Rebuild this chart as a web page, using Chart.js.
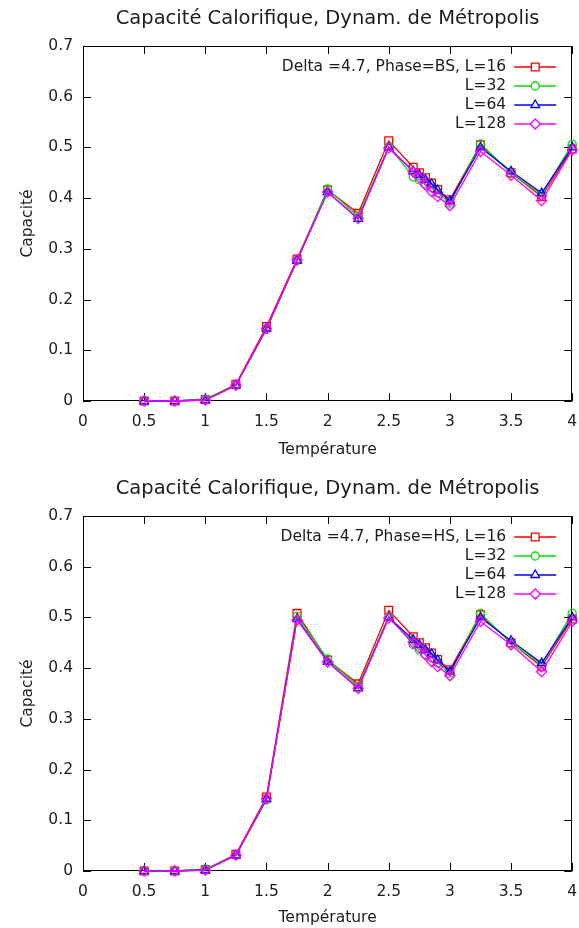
<!DOCTYPE html>
<html lang="fr">
<head>
<meta charset="UTF-8">
<title>Capacité Calorifique, Dynam. de Métropolis</title>
<script src="https://cdn.jsdelivr.net/npm/chart.js"></script>
<style>
    html, body { margin: 0; padding: 0; background: #fff; }
    .box { position: relative; width: 579px; }
    #boxBS { height: 470px; }
    #boxHS { height: 458px; }
</style>
</head>
<body>
<div class="box" id="boxBS"><canvas id="chartBS"></canvas></div>
<div class="box" id="boxHS"><canvas id="chartHS"></canvas></div>
<script>
const temperatures = [0.5, 0.75, 1, 1.25, 1.5, 1.75, 2, 2.25, 2.5, 2.7, 2.75, 2.8, 2.85, 2.9, 3, 3.25, 3.5, 3.75, 4];
const xTicks = [0, 0.5, 1, 1.5, 2, 2.5, 3, 3.5, 4];
const yTicks = [0, 0.1, 0.2, 0.3, 0.4, 0.5, 0.6, 0.7];
const sizes = ['L=16', 'L=32', 'L=64', 'L=128'];
const chartTitle = 'Capacité Calorifique, Dynam. de Métropolis';

// Phase=BS
const bsL16  = [0, 0, 0.003, 0.033, 0.147, 0.280, 0.416, 0.370, 0.513, 0.461, 0.450, 0.440, 0.430, 0.417, 0.397, 0.505, 0.450, 0.403, 0.497];
const bsL32  = [0, 0, 0.004, 0.031, 0.141, 0.277, 0.418, 0.364, 0.502, 0.442, 0.436, 0.428, 0.420, 0.410, 0.390, 0.507, 0.449, 0.408, 0.506];
const bsL64  = [0, 0, 0.002, 0.031, 0.143, 0.277, 0.412, 0.359, 0.500, 0.453, 0.446, 0.436, 0.428, 0.416, 0.394, 0.500, 0.453, 0.410, 0.500];
const bsL128 = [0, 0, 0.002, 0.031, 0.143, 0.278, 0.412, 0.360, 0.499, 0.452, 0.440, 0.426, 0.413, 0.403, 0.385, 0.492, 0.445, 0.395, 0.495];

// Phase=HS
const hsL16  = [0, 0, 0.003, 0.033, 0.146, 0.508, 0.416, 0.369, 0.514, 0.462, 0.450, 0.440, 0.430, 0.417, 0.397, 0.505, 0.450, 0.403, 0.497];
const hsL32  = [0, 0, 0.004, 0.031, 0.140, 0.502, 0.418, 0.364, 0.502, 0.446, 0.436, 0.428, 0.420, 0.410, 0.390, 0.508, 0.449, 0.408, 0.508];
const hsL64  = [0, 0, 0.002, 0.031, 0.142, 0.497, 0.413, 0.360, 0.500, 0.456, 0.446, 0.436, 0.428, 0.416, 0.393, 0.500, 0.454, 0.410, 0.500];
const hsL128 = [0, 0, 0.002, 0.031, 0.143, 0.495, 0.412, 0.360, 0.499, 0.450, 0.440, 0.426, 0.413, 0.403, 0.385, 0.492, 0.446, 0.393, 0.492];

const colors = ['rgb(255,0,0)', 'rgb(0,220,0)', 'rgb(0,0,255)', 'rgb(255,0,255)'];
const markers = ['rect', 'circle', 'triangle', 'rectRot'];
const markerSize = [5.5, 4, 5, 5];
const textColor = '#1c1c1c';
const fontFamily = '"DejaVu Sans", Verdana, sans-serif';
const labelSize = 15.5;

// cadre noir avec graduations vers l'intérieur (style gnuplot)
const frameTicks = {
    id: 'frameTicks',
    beforeDatasetsDraw(chart) {
        const {ctx, chartArea: a, scales: {x, y}} = chart;
        ctx.save();
        ctx.strokeStyle = '#000';
        ctx.lineWidth = 1;
        ctx.beginPath();
        x.ticks.forEach(t => {
            const px = Math.round(x.getPixelForValue(t.value)) + 0.5;
            ctx.moveTo(px, a.bottom); ctx.lineTo(px, a.bottom - 8);
            ctx.moveTo(px, a.top); ctx.lineTo(px, a.top + 8);
        });
        y.ticks.forEach(t => {
            const py = Math.round(y.getPixelForValue(t.value)) + 0.5;
            ctx.moveTo(a.left, py); ctx.lineTo(a.left + 8, py);
            ctx.moveTo(a.right, py); ctx.lineTo(a.right - 8, py);
        });
        ctx.stroke();
        ctx.strokeRect(Math.round(a.left) + 0.5, Math.round(a.top) + 0.5,
            Math.round(a.right - a.left) - 1, Math.round(a.bottom - a.top) - 1);

        // titre centré sur la zone du tracé
        ctx.fillStyle = textColor;
        ctx.font = '19.5px ' + fontFamily;
        ctx.textAlign = 'center';
        ctx.textBaseline = 'middle';
        ctx.fillText(chartTitle, (a.left + a.right) / 2, 19);
        ctx.restore();
    }
};

// légende en haut à droite : texte aligné à droite, échantillon à droite
const keyBox = {
    id: 'keyBox',
    afterDatasetsDraw(chart) {
        const {ctx, chartArea: a} = chart;
        ctx.save();
        ctx.font = labelSize + 'px ' + fontFamily;
        ctx.textAlign = 'right';
        ctx.textBaseline = 'middle';
        chart.data.datasets.forEach((ds, i) => {
            const yy = a.top + 21 + i * 19;
            const x1 = a.right - 58, x2 = a.right - 16;
            ctx.fillStyle = textColor;
            ctx.fillText(ds.label, x1 - 8, yy);
            ctx.strokeStyle = ds.borderColor;
            ctx.lineWidth = 1.3;
            ctx.beginPath();
            ctx.moveTo(x1, yy); ctx.lineTo(x2, yy);
            ctx.stroke();
            ctx.fillStyle = '#fff';
            Chart.helpers.drawPoint(ctx, {
                pointStyle: ds.pointStyle, radius: ds.pointRadius, rotation: 0, borderWidth: 1.3
            }, (x1 + x2) / 2, yy);
        });
        ctx.restore();
    }
};

function makeChart(id, phase, series, height, xTitlePad) {
    const datasets = series.map((values, i) => ({
        label: (i === 0 ? 'Delta =4.7, Phase=' + phase + ', ' : '') + sizes[i],
        data: temperatures.map((t, k) => ({x: t, y: values[k]})),
        borderColor: colors[i],
        backgroundColor: 'rgba(0,0,0,0)',
        borderWidth: 1.3,
        pointStyle: markers[i],
        pointRadius: markerSize[i],
        pointBorderWidth: 1.3,
        pointBackgroundColor: 'rgba(0,0,0,0)',
        pointBorderColor: colors[i],
        tension: 0,
        clip: false,
        order: 4 - i
    }));

    return new Chart(document.getElementById(id), {
        type: 'line',
        data: {datasets: datasets},
        plugins: [frameTicks, keyBox],
        options: {
            responsive: true,
            maintainAspectRatio: false,
            animation: false,
            layout: {padding: {left: 0, right: 5, top: 46, bottom: 0}},
            plugins: {
                legend: {display: false},
                tooltip: {enabled: false},
                title: {display: false}
            },
            scales: {
                x: {
                    type: 'linear',
                    min: xTicks[0],
                    max: xTicks[xTicks.length - 1],
                    afterBuildTicks: s => { s.ticks = xTicks.map(v => ({value: v})); },
                    afterFit: s => { s.height = height - 401; s.paddingRight = 0; s.paddingLeft = 0; },
                    grid: {display: false, drawTicks: false},
                    border: {display: false},
                    ticks: {
                        color: textColor, font: {family: fontFamily, size: labelSize}, padding: 12,
                        maxRotation: 0, callback: v => String(v)
                    },
                    title: {
                        display: true, text: 'Température', color: textColor,
                        font: {family: fontFamily, size: labelSize}, padding: {top: 0, bottom: xTitlePad}
                    }
                },
                y: {
                    type: 'linear',
                    min: yTicks[0],
                    max: yTicks[yTicks.length - 1],
                    afterBuildTicks: s => { s.ticks = yTicks.map(v => ({value: v})); },
                    afterFit: s => { s.width = 83; s.paddingTop = 0; s.paddingBottom = 0; },
                    grid: {display: false, drawTicks: false},
                    border: {display: false},
                    ticks: {
                        color: textColor, font: {family: fontFamily, size: labelSize}, padding: 10,
                        callback: v => String(v)
                    },
                    title: {
                        display: true, text: 'Capacité', color: textColor,
                        font: {family: fontFamily, size: labelSize}, padding: {top: 19, bottom: 0}
                    }
                }
            }
        }
    });
}

makeChart('chartBS', 'BS', [bsL16, bsL32, bsL64, bsL128], 470, 11);
makeChart('chartHS', 'HS', [hsL16, hsL32, hsL64, hsL128], 458, 1);
</script>
</body>
</html>
